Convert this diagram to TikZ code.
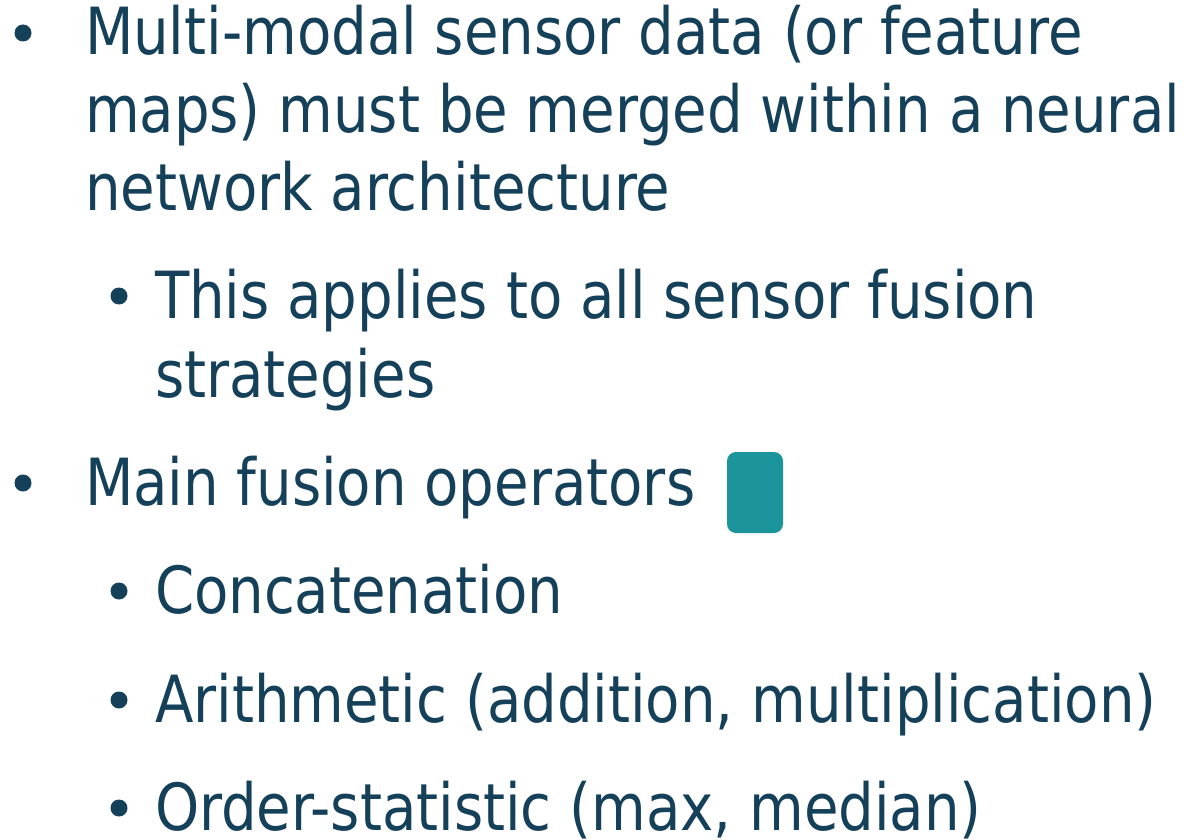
\documentclass[tikz,border=0pt]{standalone}
\usepackage{fontspec}
\setmainfont[FakeStretch=0.96]{DejaVu Sans Condensed}
\definecolor{txt}{RGB}{21,64,90}
\definecolor{teal1}{RGB}{27,149,155}
\begin{document}
\begin{tikzpicture}[x=1pt,y=-1pt,
  line/.style={anchor=base west,inner sep=0pt,outer sep=0pt,text=txt,font=\fontsize{65}{78}\selectfont},
  dot/.style={circle,fill=txt,draw=none,minimum size=17pt,inner sep=0pt}]
\useasboundingbox (0,0) rectangle (1188,840);
\node[dot] (b1) at (23,33) {};
\node[line] (l1) at (85,55) {Multi-modal sensor data (or feature};
\node[line] (l2) at (85,132) {maps) must be merged within a neural};
\node[line] (l3) at (85,210) {network architecture};
\node[dot] (s1) at (119,296) {};
\node[line] (l4) at (155,318) {This applies to all sensor fusion};
\node[line] (l5) at (155,397) {strategies};
\node[dot] (b2) at (23,483) {};
\node[line] (l6) at (85,505) {Main fusion operators};
\node[dot] (s2) at (119,591) {};
\node[line] (l7) at (155,613) {Concatenation};
\node[dot] (s3) at (119,700) {};
\node[line] (l8) at (155,722) {Arithmetic (addition, multiplication)};
\node[dot] (s4) at (119,808) {};
\node[line] (l9) at (155,830) {Order-statistic (max, median)};
\fill[teal1,rounded corners=9pt] (727,452) rectangle (783,533);
\end{tikzpicture}
\end{document}
